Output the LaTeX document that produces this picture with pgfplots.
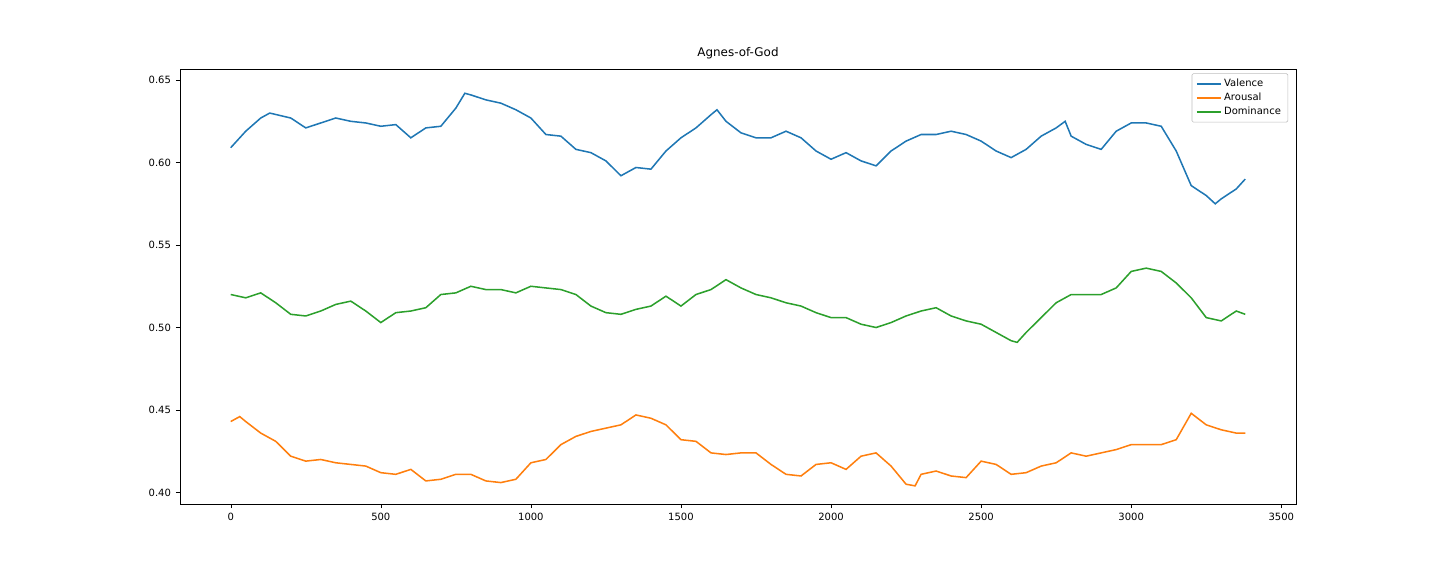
\documentclass[border=0pt]{standalone}
\usepackage{pgfplots}
\pgfplotsset{compat=1.18}
\usepackage{fontspec}
\setmainfont{DejaVu Sans}
\definecolor{mblue}{HTML}{1F77B4}
\definecolor{morange}{HTML}{FF7F0E}
\definecolor{mgreen}{HTML}{2CA02C}
\begin{document}
\begin{tikzpicture}
\begin{axis}[scale only axis, width=803.5pt, height=313.2pt, at={(0,0)}, anchor=south west,
xmin=-169, xmax=3549, ymin=0.393, ymax=0.6567,
xtick={0,500,...,3500}, ytick={0.40,0.45,...,0.65},
yticklabel style={/pgf/number format/fixed,/pgf/number format/precision=2,/pgf/number format/fixed zerofill},
/pgf/number format/assume math mode=true,
xticklabel style={/pgf/number format/1000 sep={}},
tick align=outside, tick style={black, major tick length=3pt}, tick pos=lower,
ticklabel style={font=\fontsize{7.2pt}{8pt}\selectfont},
title={Agnes-of-God}, title style={font=\fontsize{8.6pt}{10pt}\selectfont, yshift=-2pt},
legend style={at={(0.993,0.99)}, anchor=north east, font=\fontsize{7.2pt}{8.5pt}\selectfont, draw=black!25, rounded corners=1pt, cells={anchor=west}, row sep=-1pt},
legend cell align=left]
\addplot[mblue, line width=1.1pt] coordinates {(0,0.609)(50,0.619)(100,0.627)(130,0.630)(200,0.627)(250,0.621)(300,0.624)(350,0.627)(400,0.625)(450,0.624)(500,0.622)(550,0.623)(600,0.615)(650,0.621)(700,0.622)(750,0.633)(780,0.642)(800,0.641)(850,0.638)(900,0.636)(950,0.632)(1000,0.627)(1050,0.617)(1100,0.616)(1150,0.608)(1200,0.606)(1250,0.601)(1300,0.592)(1350,0.597)(1400,0.596)(1450,0.607)(1500,0.615)(1550,0.621)(1600,0.629)(1620,0.632)(1650,0.625)(1700,0.618)(1750,0.615)(1800,0.615)(1850,0.619)(1900,0.615)(1950,0.607)(2000,0.602)(2050,0.606)(2100,0.601)(2150,0.598)(2200,0.607)(2250,0.613)(2300,0.617)(2350,0.617)(2400,0.619)(2450,0.617)(2500,0.613)(2550,0.607)(2600,0.603)(2650,0.608)(2700,0.616)(2750,0.621)(2780,0.625)(2800,0.616)(2850,0.611)(2900,0.608)(2950,0.619)(3000,0.624)(3050,0.624)(3100,0.622)(3150,0.607)(3200,0.586)(3250,0.580)(3280,0.575)(3300,0.578)(3350,0.584)(3380,0.590)};
\addlegendentry{Valence}
\addplot[morange, line width=1.1pt] coordinates {(0,0.443)(30,0.446)(50,0.443)(100,0.436)(150,0.431)(200,0.422)(250,0.419)(300,0.420)(350,0.418)(400,0.417)(450,0.416)(500,0.412)(550,0.411)(600,0.414)(650,0.407)(700,0.408)(750,0.411)(800,0.411)(850,0.407)(900,0.406)(950,0.408)(1000,0.418)(1050,0.420)(1100,0.429)(1150,0.434)(1200,0.437)(1250,0.439)(1300,0.441)(1350,0.447)(1400,0.445)(1450,0.441)(1500,0.432)(1550,0.431)(1600,0.424)(1650,0.423)(1700,0.424)(1750,0.424)(1800,0.417)(1850,0.411)(1900,0.410)(1950,0.417)(2000,0.418)(2050,0.414)(2100,0.422)(2150,0.424)(2200,0.416)(2250,0.405)(2280,0.404)(2300,0.411)(2350,0.413)(2400,0.410)(2450,0.409)(2500,0.419)(2550,0.417)(2600,0.411)(2650,0.412)(2700,0.416)(2750,0.418)(2800,0.424)(2850,0.422)(2900,0.424)(2950,0.426)(3000,0.429)(3050,0.429)(3100,0.429)(3150,0.432)(3200,0.448)(3250,0.441)(3300,0.438)(3350,0.436)(3380,0.436)};
\addlegendentry{Arousal}
\addplot[mgreen, line width=1.1pt] coordinates {(0,0.520)(50,0.518)(100,0.521)(150,0.515)(200,0.508)(250,0.507)(300,0.510)(350,0.514)(400,0.516)(450,0.510)(500,0.503)(550,0.509)(600,0.510)(650,0.512)(700,0.520)(750,0.521)(800,0.525)(850,0.523)(900,0.523)(950,0.521)(1000,0.525)(1050,0.524)(1100,0.523)(1150,0.520)(1200,0.513)(1250,0.509)(1300,0.508)(1350,0.511)(1400,0.513)(1450,0.519)(1500,0.513)(1550,0.520)(1600,0.523)(1650,0.529)(1700,0.524)(1750,0.520)(1800,0.518)(1850,0.515)(1900,0.513)(1950,0.509)(2000,0.506)(2050,0.506)(2100,0.502)(2150,0.500)(2200,0.503)(2250,0.507)(2300,0.510)(2350,0.512)(2400,0.507)(2450,0.504)(2500,0.502)(2550,0.497)(2600,0.492)(2620,0.491)(2650,0.497)(2700,0.506)(2750,0.515)(2800,0.520)(2850,0.520)(2900,0.520)(2950,0.524)(3000,0.534)(3050,0.536)(3100,0.534)(3150,0.527)(3200,0.518)(3250,0.506)(3300,0.504)(3350,0.510)(3380,0.508)};
\addlegendentry{Dominance}
\end{axis}
\pgfresetboundingbox
\path[use as bounding box] (-129.6pt,-51.8pt) rectangle (907.2pt,362.9pt);
\end{tikzpicture}
\end{document}
